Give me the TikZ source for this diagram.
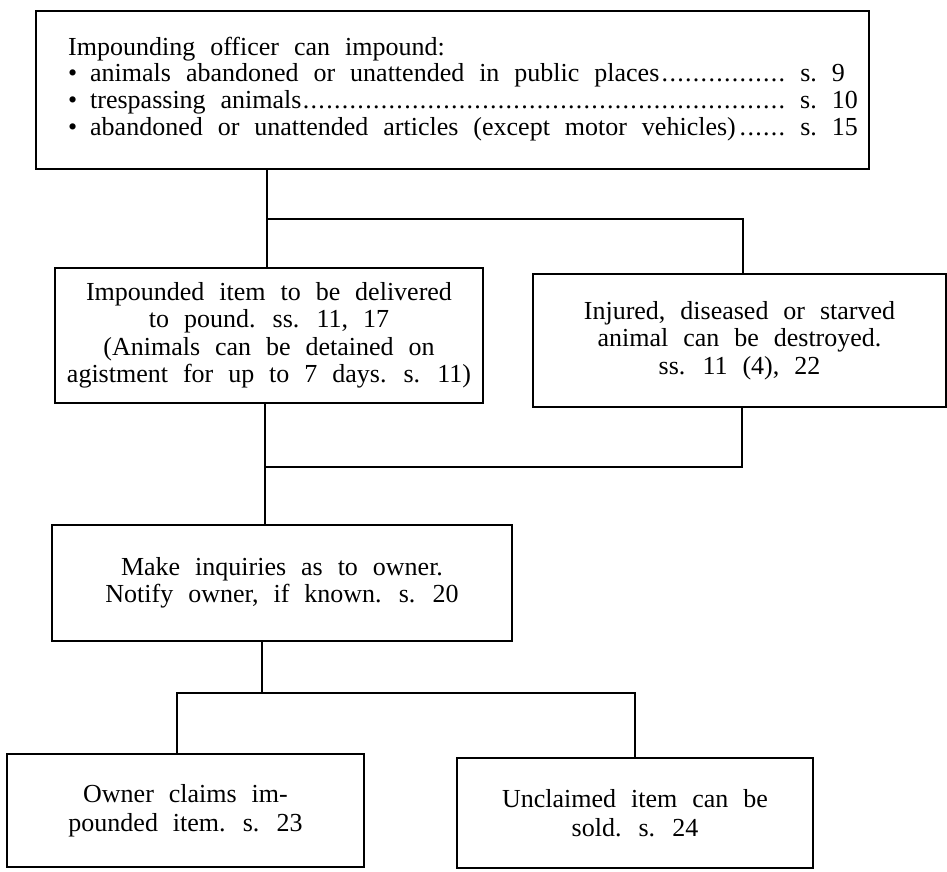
\documentclass[tikz,border=0pt]{standalone}
\usepackage{fontspec}
\setmainfont{Liberation Serif}[WordSpace=2.3]
\newcommand{\dotlead}{\leaders\hbox to 7.8pt{\hss.\hss}\hfill\hspace*{8pt}}
\newcommand{\secref}[1]{\makebox[53pt][l]{#1}}
\tikzset{
  boxnode/.style={draw, line width=1.7pt, inner sep=0pt, align=center,
    font=\fontsize{26}{27.5}\selectfont},
  link/.style={line width=1.7pt}
}
\begin{document}
\begin{tikzpicture}[x=1pt, y=-1pt]
\useasboundingbox (0,0) rectangle (947,871);
% boxes
\node[boxnode, minimum width=833pt, minimum height=158pt] (top) at (452.5,90) {};
\node[anchor=base west, inner sep=0pt, font=\fontsize{26}{26.7}\selectfont] (toptext) at (68,55)
 {\parbox[t]{785pt}{Impounding officer can impound:\\
 \makebox[22pt][l]{•}animals abandoned or unattended in public places\dotlead\secref{s.\ 9}\\
 \makebox[22pt][l]{•}trespassing animals\dotlead\secref{s.\ 10}\\
 \makebox[22pt][l]{•}abandoned or unattended articles (except motor vehicles)\dotlead\secref{s.\ 15}}};
\node[boxnode, minimum width=428pt, minimum height=135pt] (b1) at (269,335.5)
 {Impounded item to be delivered\\to pound. ss. 11, 17\\(Animals can be detained on\\agistment for up to 7 days. s. 11)};
\node[boxnode, minimum width=413pt, minimum height=133pt] (b2) at (739.5,340.5)
 {Injured, diseased or starved\\animal can be destroyed.\\ss. 11 (4), 22};
\node[boxnode, minimum width=460pt, minimum height=116pt] (b3) at (282,583)
 {Make inquiries as to owner.\\Notify owner, if known. s. 20};
\node[boxnode, minimum width=357pt, minimum height=113pt, font=\fontsize{26}{29}\selectfont] (b4) at (185.5,810.5)
 {Owner claims im-\\pounded item. s. 23};
\node[boxnode, minimum width=356pt, minimum height=110pt, font=\fontsize{26}{29}\selectfont] (b5) at (635,813)
 {Unclaimed item can be\\sold. s. 24};
% junction points
\coordinate (j1) at (267,219);
\coordinate (j2) at (743,219);
\coordinate (j3) at (265,467);
\coordinate (j4) at (742,467);
\coordinate (j5) at (262,693);
\coordinate (j6) at (177,693);
\coordinate (j7) at (635,693);
% connectors
\draw[link] (j1 |- top.south) -- (j1) -- (j2) -- (j2 |- b2.north);
\draw[link] (j1) -- (j1 |- b1.north);
\draw[link] (j3 |- b1.south) -- (j3) -- (j4) -- (j4 |- b2.south);
\draw[link] (j3) -- (j3 |- b3.north);
\draw[link] (j5 |- b3.south) -- (j5);
\draw[link] (j6 |- b4.north) -- (j6) -- (j7) -- (j7 |- b5.north);
\end{tikzpicture}
\end{document}
